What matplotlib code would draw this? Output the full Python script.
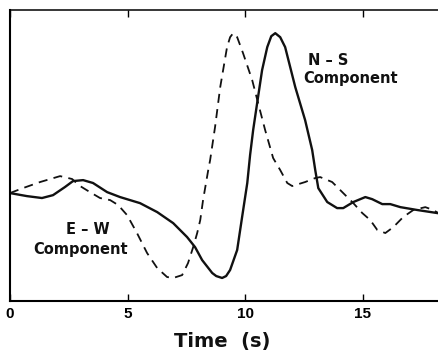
import matplotlib
matplotlib.use("Agg")
import matplotlib.pyplot as plt

# N-S component (solid)
ns_t = [0.00, 0.72, 1.36, 1.83, 2.34, 2.68, 3.11, 3.53, 4.13, 4.68, 5.53, 6.26,
        6.94, 7.53, 7.87, 8.17, 8.60, 8.77, 9.02, 9.19, 9.36, 9.66, 9.87, 10.09, 10.21, 10.34,
        10.51, 10.72, 10.94, 11.11, 11.28, 11.49, 11.70, 12.13, 12.55, 12.85, 12.98, 13.11, 13.49,
        13.91, 14.17, 14.60, 15.11, 15.40, 15.83, 16.17, 16.60, 17.32, 18.17]
ns_v = [0.00, -0.19, -0.31, -0.13, 0.38, 0.75, 0.81, 0.63, 0.06, -0.25, -0.63, -1.19,
        -1.88, -2.75, -3.38, -4.19, -5.00, -5.19, -5.31, -5.19, -4.81, -3.56, -1.50, 0.63, 2.38, 3.94,
        5.63, 7.69, 9.13, 9.81, 10.00, 9.75, 9.13, 6.63, 4.56, 2.69, 1.44, 0.31, -0.56,
        -0.94, -0.94, -0.56, -0.25, -0.38, -0.69, -0.69, -0.88, -1.06, -1.25]

# E-W component (dashed)
ew_t = [0.00, 0.55, 1.28, 2.13, 2.64, 2.98, 3.40, 3.83, 4.26, 4.60, 4.98, 5.40,
        5.83, 6.26, 6.68, 6.94, 7.32, 7.57, 7.79, 7.96, 8.09, 8.21, 8.43, 8.51,
        8.72, 8.94, 9.23, 9.36, 9.49, 9.66, 9.91, 10.30, 10.55, 10.85, 11.19, 11.49, 11.79,
        12.00, 12.55, 12.98, 13.19, 13.70, 14.17, 14.60, 14.98, 15.32, 15.62,
        15.96, 16.30, 16.72, 17.15, 17.66, 18.00, 18.21]
ew_v = [0.00, 0.31, 0.69, 1.06, 0.88, 0.44, 0.06, -0.31, -0.44, -0.75, -1.38, -2.50,
        -3.75, -4.69, -5.25, -5.31, -5.13, -4.38, -3.38, -2.50, -1.69, -0.44, 1.44, 2.06,
        4.13, 6.63, 9.13, 9.75, 10.00, 9.75, 8.75, 7.06, 5.63, 3.94, 2.19, 1.44, 0.63,
        0.44, 0.69, 0.94, 1.00, 0.69, 0.00, -0.63, -1.25, -1.69, -2.31,
        -2.50, -2.13, -1.50, -1.06, -0.88, -1.06, -1.25]

x_ticks = [0, 5, 10, 15]

fig = plt.figure(figsize=(4.38, 3.5), dpi=100)
ax = fig.add_axes([0.0228, 0.14, 0.9772, 0.831])

ax.plot(ns_t, ns_v, color="#111111", lw=1.7, solid_joinstyle="round")
ax.plot(ew_t, ew_v, color="#111111", lw=1.3, dashes=[5, 3.5])

ax.set_xlim(0, 18.2)
ax.set_ylim(-6.75, 11.44)

ax.spines["right"].set_visible(False)
for s in ["left", "bottom"]:
    ax.spines[s].set_linewidth(1.5)
ax.spines["top"].set_linewidth(1.1)

ax.set_xticks(x_ticks)
ax.set_xticklabels([str(v) for v in x_ticks], fontfamily="Liberation Sans",
                   fontweight="bold", fontsize=11)
ax.tick_params(axis="x", direction="in", length=5, width=1, top=True, pad=4)
ax.set_yticks([])

txt = dict(fontfamily="DejaVu Sans", fontweight="bold", fontsize=10.5,
           color="#111111", va="baseline")
ax.text(12.68, 8.0, "N – S", ha="left", **txt)
ax.text(12.47, 6.875, "Component", ha="left", **txt)
ax.text(3.32, -2.56, "E – W", ha="center", **txt)
ax.text(2.98, -3.81, "Component", ha="center", **txt)

fig.text(0.508, 0.009, "Time  (s)", ha="center", va="baseline",
         fontfamily="DejaVu Sans", fontweight="bold", fontsize=14, color="#111111")

fig.savefig("out.png", dpi=100)
